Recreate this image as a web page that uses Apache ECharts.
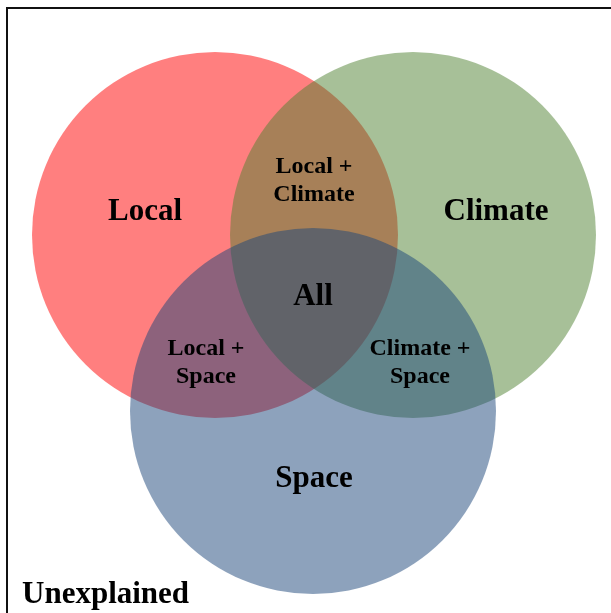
<!DOCTYPE html>
<html>
<head>
<meta charset="utf-8">
<script src="https://cdn.jsdelivr.net/npm/echarts@6/dist/echarts.min.js"></script>
<style>
  html, body { margin: 0; padding: 0; background: #fff; }
  #main { width: 611px; height: 613px; }
</style>
</head>
<body>
<div id="main"></div>
<script>
// circles: name, centre x, centre y, radius (plot units, y grows downward)
const setNames = ['Local', 'Climate', 'Space'];
const centerX = [215, 413, 313];
const centerY = [235, 235, 411];
const radius = [183, 183, 183];
const setColors = ['rgba(255,0,0,0.5)', 'rgba(80,130,50,0.5)', 'rgba(28,70,122,0.5)'];

// region labels
const labelText = ['Local', 'Climate', 'Local +\nClimate', 'All', 'Local +\nSpace', 'Climate +\nSpace', 'Space'];
const labelX = [145, 496, 314, 313, 206, 420, 314];
const labelY = [212, 212, 181, 297, 363, 363, 479];
const labelBig = [true, true, false, true, false, false, true];

let chart = echarts.init(document.getElementById('main'), null, { renderer: 'canvas' });

const circleData = setNames.map((n, i) => [centerX[i], centerY[i], radius[i], i]);
const labelData = labelText.map((t, i) => ({ value: [labelX[i], labelY[i]], name: t, big: labelBig[i] }));

const option = {
  animation: false,
  backgroundColor: '#fff',
  grid: { left: 0, right: 0, top: 0, bottom: 0 },
  xAxis: { type: 'value', min: 0, max: 611, show: false },
  yAxis: { type: 'value', min: 0, max: 613, inverse: true, show: false },
  graphic: [
    {
      type: 'rect',
      shape: { x: 7, y: 8, width: 620, height: 620 },
      style: { fill: 'none', stroke: '#111', lineWidth: 2 },
      z: 10
    },
    {
      type: 'text',
      left: 22, top: 579,
      style: { text: 'Unexplained', font: 'bold 31px "Liberation Serif", serif', fill: '#000' },
      z: 10
    }
  ],
  series: [
    {
      type: 'custom',
      data: circleData,
      renderItem: function (params, api) {
        const c = api.coord([api.value(0), api.value(1)]);
        const r = api.size([api.value(2), 0])[0];
        return {
          type: 'circle',
          shape: { cx: c[0], cy: c[1], r: r },
          style: { fill: setColors[api.value(3)] }
        };
      },
      z: 2
    },
    {
      type: 'scatter',
      symbolSize: 0,
      itemStyle: { opacity: 1 },
      data: labelData.map(d => ({
        value: d.value,
        name: d.name,
        label: {
          show: true,
          position: 'inside',
          formatter: '{b}',
          fontFamily: '"Liberation Serif", serif',
          fontWeight: 'bold',
          fontSize: d.big ? 31 : 24,
          lineHeight: d.big ? 32 : 28,
          color: '#000',
          opacity: 1
        }
      })),
      z: 5
    }
  ]
};

chart.setOption(option);
window.addEventListener('resize', chart.resize);
</script>
</body>
</html>
